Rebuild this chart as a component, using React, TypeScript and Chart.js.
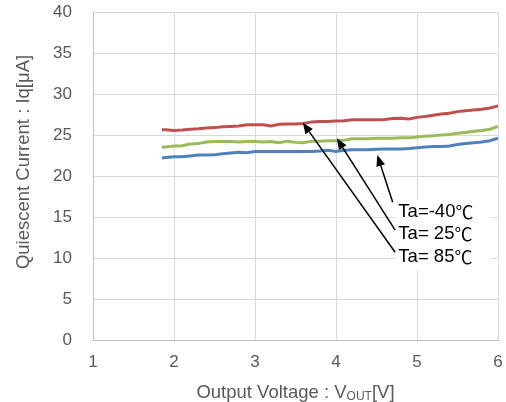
import React, { useEffect, useRef } from "react";
import { Chart, registerables } from "chart.js";

Chart.register(...registerables);

// Output voltage [V]
const VOLTS = [
  1.85, 1.9, 2.0, 2.1, 2.2, 2.3, 2.4, 2.5, 2.6, 2.7, 2.8, 2.9, 3.0, 3.1, 3.2, 3.3, 3.4, 3.5, 3.6, 3.7, 3.8,
  3.9, 4.0, 4.1, 4.2, 4.3, 4.4, 4.5, 4.6, 4.7, 4.8, 4.9, 5.0, 5.1, 5.2, 5.3, 5.4, 5.5, 5.6, 5.7, 5.8, 5.9, 6.0,
];

// Quiescent current [uA] at Ta = 85C
const IQ_85C = [
  25.65, 25.65, 25.55, 25.6, 25.7, 25.75, 25.85, 25.9, 26.0, 26.05, 26.1, 26.25, 26.25, 26.25, 26.1, 26.3, 26.35,
  26.35, 26.4, 26.6, 26.65, 26.65, 26.7, 26.75, 26.85, 26.85, 26.85, 26.85, 26.9, 27.0, 27.05, 26.95, 27.15, 27.25,
  27.4, 27.55, 27.65, 27.85, 27.95, 28.05, 28.15, 28.3, 28.55,
];

// Quiescent current [uA] at Ta = 25C
const IQ_25C = [
  23.5, 23.55, 23.65, 23.7, 23.9, 23.95, 24.15, 24.2, 24.2, 24.2, 24.15, 24.2, 24.2, 24.15, 24.2, 24.05, 24.25,
  24.1, 24.05, 24.25, 24.25, 24.3, 24.3, 24.35, 24.55, 24.55, 24.55, 24.6, 24.6, 24.6, 24.65, 24.65, 24.75, 24.85,
  24.9, 25.0, 25.05, 25.2, 25.3, 25.45, 25.55, 25.7, 26.05,
];

// Quiescent current [uA] at Ta = -40C
const IQ_M40C = [
  22.2, 22.25, 22.35, 22.35, 22.45, 22.55, 22.55, 22.6, 22.7, 22.8, 22.9, 22.85, 23.0, 23.0, 23.0, 23.0, 23.0,
  23.0, 23.0, 23.0, 23.05, 23.15, 23.0, 23.15, 23.2, 23.2, 23.2, 23.25, 23.3, 23.3, 23.3, 23.35, 23.45, 23.55,
  23.6, 23.6, 23.65, 23.85, 23.95, 24.05, 24.15, 24.3, 24.6,
];

const SERIES_LABELS = ["Ta= 85℃", "Ta= 25℃", "Ta=-40℃"];
const X_TICKS = [1, 2, 3, 4, 5, 6];
const Y_TICKS = [0, 5, 10, 15, 20, 25, 30, 35, 40];

const Y_TITLE = "Quiescent Current : Iq[μA]";
const X_TITLE_MAIN = "Output Voltage : V";
const X_TITLE_SUB = "OUT";
const X_TITLE_END = "[V]";

// annotation labels (prefix + unit) and arrows, in data coordinates
const ANNOT_PREFIX = ["Ta=-40", "Ta= 25", "Ta= 85"];
const ANNOT_UNIT = "℃";
const ANNOT_TEXT_Y = [15.6, 12.9, 10.1];
const ANNOT_TEXT_X = 4.77;
const ARROW_TAIL = [
  [4.7, 16.8],
  [4.73, 13.4],
  [4.73, 10.7],
];
const ARROW_TIP = [
  [4.51, 22.55],
  [4.01, 24.6],
  [3.59, 26.5],
];

const COLORS = ["#C0504D", "#9BBB59", "#4F81BD"];
const TEXT_COLOR = "#595959";
const FONT = "'Liberation Sans', Arial, sans-serif";
const CJK_FONT = "'Noto Sans CJK JP', sans-serif";

const annotPlugin = {
  id: "annot",
  afterDatasetsDraw(chart: any) {
    const ctx = chart.ctx;
    const xs = chart.scales.x;
    const ys = chart.scales.y;
    ctx.save();
    // white label box
    const bx = xs.getPixelForValue(ANNOT_TEXT_X) - 3;
    const by = ys.getPixelForValue(ANNOT_TEXT_Y[0]) - 13;
    ctx.fillStyle = "#ffffff";
    ctx.fillRect(bx, by, 96, ys.getPixelForValue(ANNOT_TEXT_Y[2]) + 14 - by);
    // arrows
    ctx.strokeStyle = "#000000";
    ctx.fillStyle = "#000000";
    ctx.lineWidth = 1.5;
    for (let i = 0; i < ARROW_TAIL.length; i++) {
      const x1 = xs.getPixelForValue(ARROW_TAIL[i][0]);
      const y1 = ys.getPixelForValue(ARROW_TAIL[i][1]);
      const x2 = xs.getPixelForValue(ARROW_TIP[i][0]);
      const y2 = ys.getPixelForValue(ARROW_TIP[i][1]);
      const ang = Math.atan2(y2 - y1, x2 - x1);
      const hl = 11;
      const hw = 4.5;
      const bxp = x2 - hl * Math.cos(ang);
      const byp = y2 - hl * Math.sin(ang);
      ctx.beginPath();
      ctx.moveTo(x1, y1);
      ctx.lineTo(bxp, byp);
      ctx.stroke();
      ctx.beginPath();
      ctx.moveTo(x2, y2);
      ctx.lineTo(bxp + hw * Math.sin(ang), byp - hw * Math.cos(ang));
      ctx.lineTo(bxp - hw * Math.sin(ang), byp + hw * Math.cos(ang));
      ctx.closePath();
      ctx.fill();
    }
    // label text
    ctx.fillStyle = "#000000";
    ctx.textAlign = "left";
    ctx.textBaseline = "middle";
    for (let i = 0; i < ANNOT_PREFIX.length; i++) {
      const tx = xs.getPixelForValue(ANNOT_TEXT_X);
      const tyy = ys.getPixelForValue(ANNOT_TEXT_Y[i]);
      ctx.font = `18.5px ${FONT}`;
      ctx.fillText(ANNOT_PREFIX[i], tx, tyy);
      const pw = ctx.measureText(ANNOT_PREFIX[i]).width;
      ctx.font = `18px ${CJK_FONT}`;
      ctx.fillText(ANNOT_UNIT, tx + pw, tyy);
    }
    // x-axis title with subscript
    const area = chart.chartArea;
    const cx = (area.left + area.right) / 2;
    ctx.fillStyle = TEXT_COLOR;
    ctx.textBaseline = "alphabetic";
    const big = `18.5px ${FONT}`;
    const small = `12px ${FONT}`;
    ctx.font = big;
    const w1 = ctx.measureText(X_TITLE_MAIN).width;
    const w3 = ctx.measureText(X_TITLE_END).width;
    ctx.font = small;
    const w2 = ctx.measureText(X_TITLE_SUB).width;
    let x = cx - (w1 + w2 + w3) / 2;
    const base = 398;
    ctx.font = big;
    ctx.fillText(X_TITLE_MAIN, x, base);
    x += w1;
    ctx.font = small;
    ctx.fillText(X_TITLE_SUB, x, base + 2);
    x += w2;
    ctx.font = big;
    ctx.fillText(X_TITLE_END, x, base);
    // y-axis title (rotated)
    ctx.translate(24, 162);
    ctx.rotate(-Math.PI / 2);
    ctx.font = big;
    ctx.textAlign = "center";
    ctx.textBaseline = "middle";
    ctx.fillText(Y_TITLE, 0, 0);
    ctx.restore();
  },
};

export default function App() {
  const ref = useRef<HTMLCanvasElement>(null);
  useEffect(() => {
    if (!ref.current) return;
    const seriesData = [IQ_85C, IQ_25C, IQ_M40C];
    const chart = new Chart(ref.current, {
      type: "line",
      data: {
        datasets: seriesData.map((arr, i) => ({
          label: SERIES_LABELS[i],
          data: VOLTS.map((v, j) => ({ x: v, y: arr[j] })),
          borderColor: COLORS[i],
          backgroundColor: COLORS[i],
          borderWidth: 3,
          pointRadius: 0,
          tension: 0,
          fill: false,
        })),
      },
      options: {
        responsive: false,
        animation: false,
        devicePixelRatio: 1,
        layout: { autoPadding: false, padding: { top: 12, right: 8, left: 0, bottom: 0 } },
        plugins: { legend: { display: false }, tooltip: { enabled: false } },
        scales: {
          x: {
            type: "linear",
            min: 1,
            max: 6,
            afterBuildTicks: (s: any) => {
              s.ticks = X_TICKS.map((v) => ({ value: v }));
            },
            afterFit: (s: any) => {
              s.height = 62;
              s.paddingLeft = 0;
              s.paddingRight = 0;
              s.paddingTop = 0;
              s.paddingBottom = 0;
            },
            ticks: { color: TEXT_COLOR, font: { family: FONT, size: 17 }, padding: 12 },
            grid: { color: "#d9d9d9", lineWidth: 1, drawTicks: false },
            border: { display: true, color: "#bfbfbf", width: 1 },
          },
          y: {
            type: "linear",
            min: 0,
            max: 40,
            afterBuildTicks: (s: any) => {
              s.ticks = Y_TICKS.map((v) => ({ value: v }));
            },
            afterFit: (s: any) => {
              s.width = 93;
              s.paddingLeft = 0;
              s.paddingRight = 0;
              s.paddingTop = 0;
              s.paddingBottom = 0;
            },
            ticks: { color: TEXT_COLOR, font: { family: FONT, size: 17 }, padding: 21 },
            grid: { color: "#d9d9d9", lineWidth: 1, drawTicks: false },
            border: { display: true, color: "#bfbfbf", width: 1 },
            title: { display: false, text: Y_TITLE },
          },
        },
      },
      plugins: [annotPlugin],
    });
    return () => chart.destroy();
  }, []);
  return (
    <div style={{ position: "absolute", left: 0, top: 0, width: 506, height: 402, background: "#fff" }}>
      <canvas ref={ref} width={506} height={402} />
    </div>
  );
}
